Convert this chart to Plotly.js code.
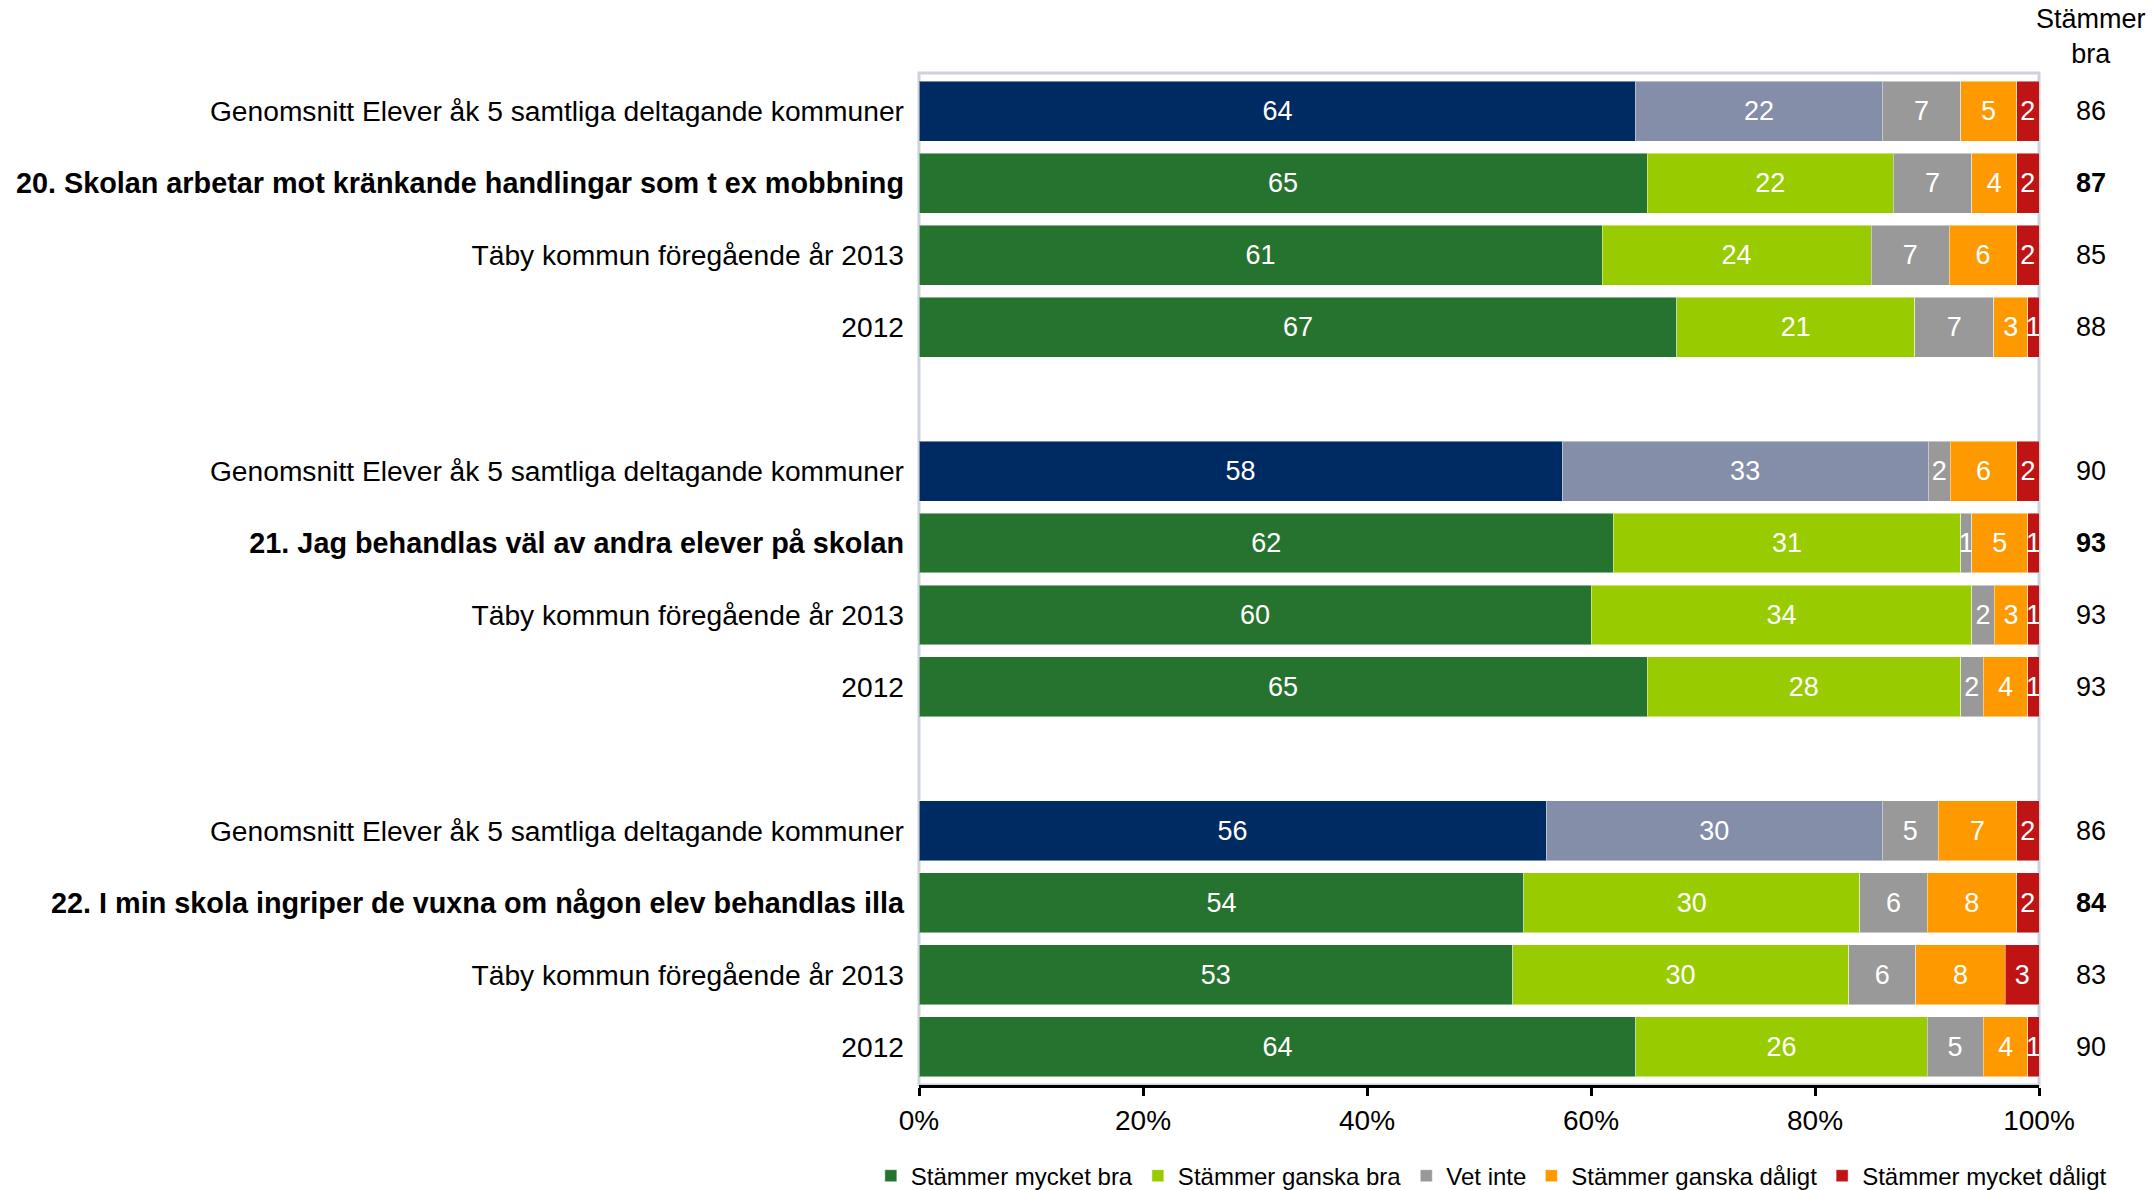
<!DOCTYPE html>
<html>
<head>
<meta charset="utf-8">
<script src="https://cdn.plot.ly/plotly-3.0.1.min.js"></script>
<style>
  html, body { margin: 0; padding: 0; background: #ffffff; }
  #chart { width: 2154px; height: 1190px; }
</style>
</head>
<body>
<div id="chart"></div>
<script>
// ---------- Data ----------
const rowLabels = [
  "Genomsnitt Elever åk 5 samtliga deltagande kommuner",
  "20. Skolan arbetar mot kränkande handlingar som t ex mobbning",
  "Täby kommun föregående år 2013",
  "2012",
  "Genomsnitt Elever åk 5 samtliga deltagande kommuner",
  "21. Jag behandlas väl av andra elever på skolan",
  "Täby kommun föregående år 2013",
  "2012",
  "Genomsnitt Elever åk 5 samtliga deltagande kommuner",
  "22. I min skola ingriper de vuxna om någon elev behandlas illa",
  "Täby kommun föregående år 2013",
  "2012"
];

const seriesNames = [
  "Stämmer mycket bra",
  "Stämmer ganska bra",
  "Vet inte",
  "Stämmer ganska dåligt",
  "Stämmer mycket dåligt"
];

const mycketBra    = [64, 65, 61, 67,  58, 62, 60, 65,  56, 54, 53, 64];
const ganskaBra    = [22, 22, 24, 21,  33, 31, 34, 28,  30, 30, 30, 26];
const vetInte      = [ 7,  7,  7,  7,   2,  1,  2,  2,   5,  6,  6,  5];
const ganskaDaligt = [ 5,  4,  6,  3,   6,  5,  3,  4,   7,  8,  8,  4];
const mycketDaligt = [ 2,  2,  2,  1,   2,  1,  1,  1,   2,  2,  3,  1];

const stammerBra   = [86, 87, 85, 88,  90, 93, 93, 93,  86, 84, 83, 90];

const xTickVals = [0, 20, 40, 60, 80, 100];
const xTickText = ["0%", "20%", "40%", "60%", "80%", "100%"];

// ---------- Styling ----------
const FONT = "Liberation Sans, Arial, Helvetica, sans-serif";
const colors = ["#267330", "#99cc00", "#999999", "#ff9900", "#c01414"];
const avgColors = ["#002a62", "#848ea8", "#999999", "#ff9900", "#c01414"];

const rowsPerGroup = 4;
const yPos = rowLabels.map((_, i) => Math.floor(i / rowsPerGroup) * (rowsPerGroup + 1) + (i % rowsPerGroup));
const isAvg = rowLabels.map((_, i) => i % rowsPerGroup === 0);
const isQuestion = rowLabels.map((_, i) => i % rowsPerGroup === 1);

const allSeries = [mycketBra, ganskaBra, vetInte, ganskaDaligt, mycketDaligt];

function pick(arr, keep) { return arr.filter((_, i) => keep[i]); }
const notAvg = isAvg.map(a => !a);

const traces = [];
allSeries.forEach((vals, s) => {
  [false, true].forEach(avg => {
    const keep = avg ? isAvg : notAvg;
    const xs = pick(vals, keep);
    traces.push({
      type: "bar",
      orientation: "h",
      name: seriesNames[s],
      legendgroup: seriesNames[s],
      showlegend: !avg,
      x: xs,
      y: pick(yPos, keep),
      text: xs.map(v => String(v)),
      texttemplate: "%{text}",
      textposition: "inside",
      insidetextanchor: "middle",
      constraintext: "none",
      textfont: { family: FONT, size: 27, color: "#ffffff" },
      marker: {
        color: avg ? avgColors[s] : colors[s],
        line: { color: "rgba(255,255,255,0.45)", width: 1 }
      },
      hoverinfo: "skip"
    });
  });
});

const annotations = stammerBra.map((v, i) => ({
  xref: "paper", yref: "y",
  x: 1.046, y: yPos[i],
  text: isQuestion[i] ? "<b>" + v + "</b>" : String(v),
  showarrow: false,
  xanchor: "center", yanchor: "middle",
  font: { family: FONT, size: 27, color: "#000000" }
}));
annotations.push({
  xref: "paper", yref: "paper",
  x: 1.046, y: 1.036,
  text: "Stämmer<br>bra",
  showarrow: false,
  xanchor: "center", yanchor: "middle",
  font: { family: FONT, size: 27, color: "#000000" }
});

const layout = {
  width: 2154,
  height: 1190,
  paper_bgcolor: "#ffffff",
  plot_bgcolor: "#ffffff",
  margin: { l: 919, r: 115, t: 73, b: 105, pad: 0, autoexpand: false },
  barmode: "stack",
  barnorm: "percent",
  bargap: 0.167,
  font: { family: FONT, size: 27, color: "#000000" },
  xaxis: {
    range: [0, 100],
    tickvals: xTickVals,
    ticktext: xTickText,
    ticks: "outside",
    ticklen: 8,
    tickwidth: 3,
    tickcolor: "#000000",
    showline: true,
    linecolor: "#000000",
    linewidth: 3,
    showgrid: false,
    zeroline: false,
    ticklabelstandoff: 0,
    tickfont: { family: FONT, size: 28, color: "#000000" },
    fixedrange: true
  },
  yaxis: {
    range: [13.53, -0.53],
    tickvals: yPos,
    ticktext: rowLabels.map((t, i) => isQuestion[i] ? "<b><span style=\"font-size:28.8px\">" + t + "</span></b>" : t),
    ticks: "",
    showline: false,
    showgrid: false,
    zeroline: false,
    ticklabelstandoff: 14,
    tickfont: { family: FONT, size: 28.2, color: "#000000" },
    fixedrange: true
  },
  shapes: [{
    type: "rect", xref: "paper", yref: "paper",
    x0: 0, x1: 1, y0: 0, y1: 1,
    line: { color: "#cdd2de", width: 3 },
    layer: "below"
  }],
  annotations: annotations,
  showlegend: true,
  legend: {
    orientation: "h",
    x: -0.043, xanchor: "left",
    y: -0.09, yanchor: "middle",
    font: { family: FONT, size: 24, color: "#000000" },
    itemwidth: 30,
    traceorder: "normal",
    bgcolor: "rgba(0,0,0,0)"
  }
};

Plotly.newPlot("chart", traces, layout, { displayModeBar: false, staticPlot: true });
</script>
</body>
</html>
